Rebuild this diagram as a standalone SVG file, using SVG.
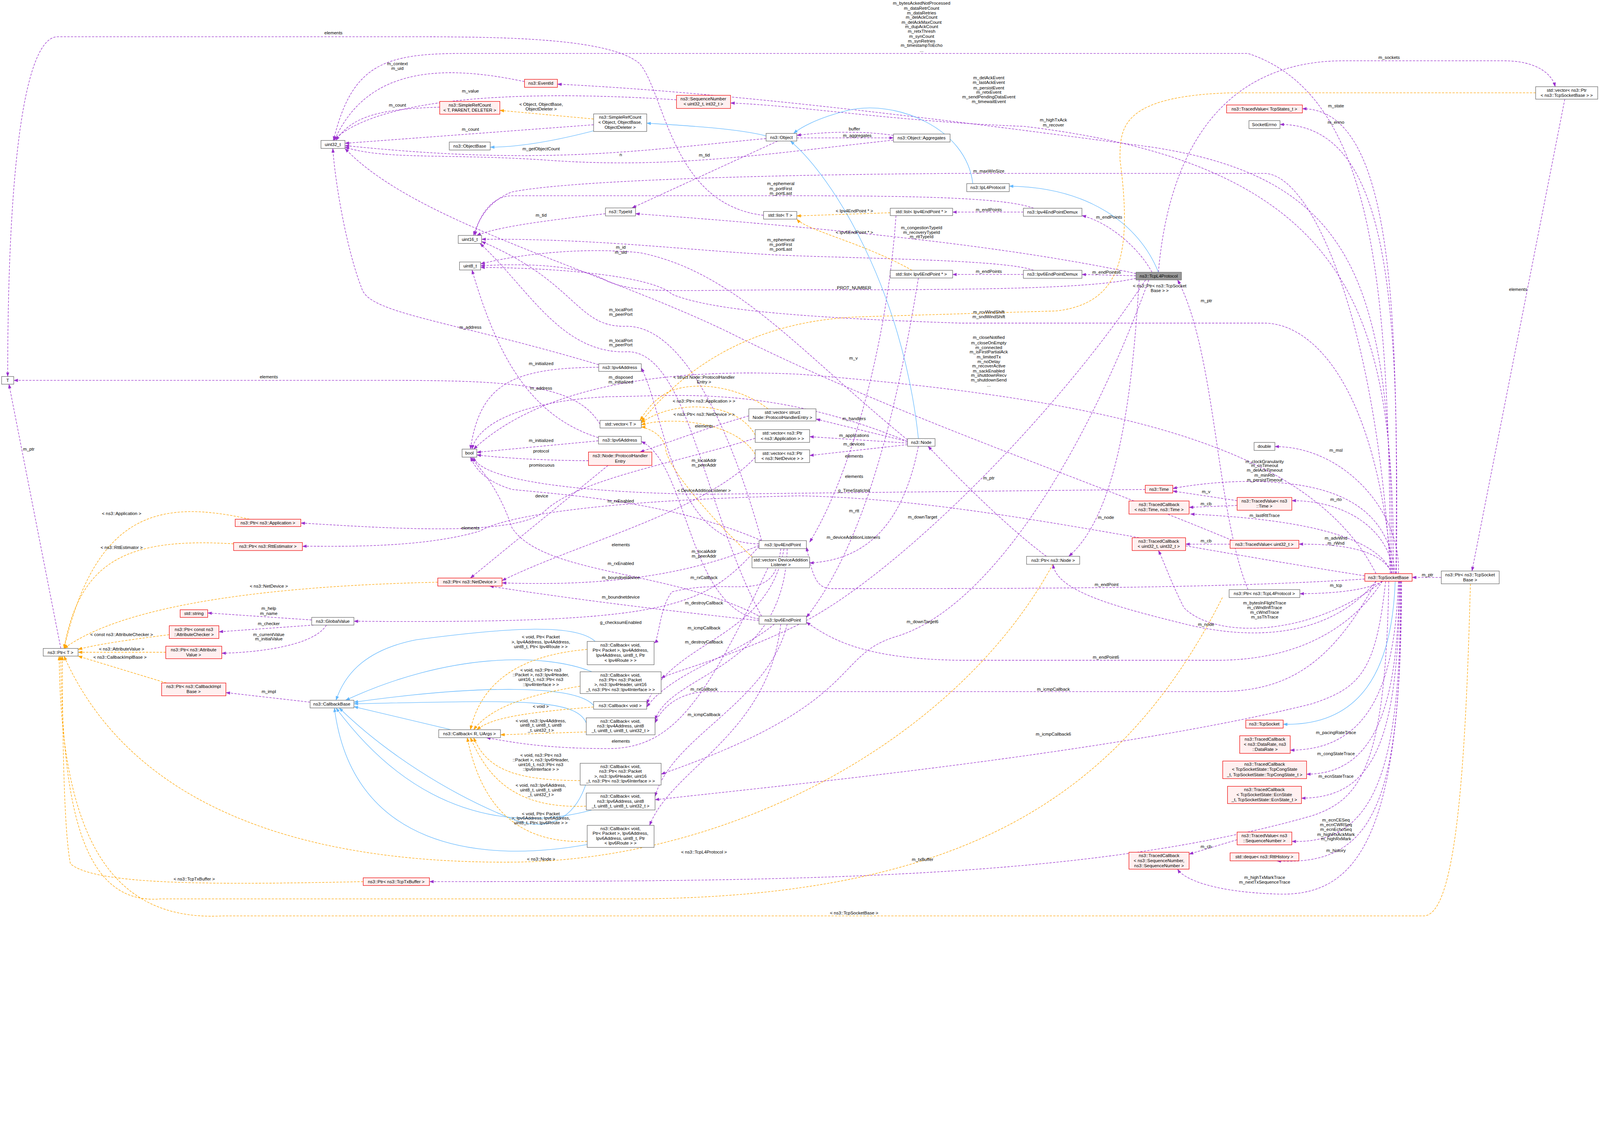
<svg xmlns="http://www.w3.org/2000/svg" width="5000" height="2894" viewBox="0 0 5000 2894" style="max-width:100%;height:auto">
<style>
text{font-family:"Liberation Sans",Arial,sans-serif;font-size:14px;fill:#000}
.nd text{text-anchor:middle}
.w{fill:#fff;stroke:#666;stroke-width:1.5}
.r{fill:#fff0f0;stroke:#e00;stroke-width:1.5}
.g{fill:#999;stroke:#666;stroke-width:1.5}
.p{stroke:#9a32cd;stroke-width:1.6;stroke-dasharray:7,4;fill:none;marker-end:url(#ap)}
.b{stroke:#63b8ff;stroke-width:1.6;fill:none;marker-end:url(#ab)}
.o{stroke:#ffa500;stroke-width:1.6;stroke-dasharray:7,4;fill:none;marker-end:url(#ao)}
.l text{text-anchor:middle}
</style>
<defs>
<marker id="ap" markerWidth="14" markerHeight="10" refX="13" refY="5" orient="auto" markerUnits="userSpaceOnUse"><path d="M0,0 L14,5 L0,10 Z" fill="#9a32cd"/></marker>
<marker id="ab" markerWidth="14" markerHeight="10" refX="13" refY="5" orient="auto" markerUnits="userSpaceOnUse"><path d="M0,0 L14,5 L0,10 Z" fill="#63b8ff"/></marker>
<marker id="ao" markerWidth="14" markerHeight="10" refX="13" refY="5" orient="auto" markerUnits="userSpaceOnUse"><path d="M0,0 L14,5 L0,10 Z" fill="#ffa500"/></marker>
</defs>
<rect width="5000" height="2894" fill="#fff"/>
<g id="edges">
<path class="p" d="M2386 673 C2100 640 2080 300 2000 200 C1900 110 1500 115 1200 115 L180 115 C80 115 24 500 24 1177"/>
<path class="p" d="M4345 1793 C4340 900 4300 300 3900 167 L1450 167 C1200 167 1100 200 1042 439"/>
<path class="p" d="M4350 1793 C4350 900 4250 560 3600 460 C3000 380 2300 290 1742 263"/>
<path class="p" d="M4355 1793 C4355 1000 4250 520 3200 395 C2800 380 2500 330 2283 322"/>
<path class="p" d="M1639 255 C1400 205 1150 200 1045 439"/>
<path class="p" d="M2114 312 C1700 285 1200 290 1040 439"/>
<path class="p" d="M1374 335 C1200 340 1100 360 1050 439"/>
<path class="p" d="M1855 390 L1078 448"/>
<path class="p" d="M2394 433 C2000 470 1700 520 1078 455"/>
<path class="p" d="M2792 438 C2400 480 2100 530 1700 500 C1400 480 1200 500 1078 460"/>
<path class="p" d="M2792 423 C2700 410 2600 410 2490 423"/>
<path class="p" d="M2490 431 L2792 431"/>
<path class="p" d="M2430 441 L1975 650"/>
<path class="p" d="M1892 668 C1700 690 1550 710 1490 736"/>
<path class="p" d="M4345 1793 C4300 1000 4100 542 3950 542 L3000 542 C2500 545 1800 560 1600 600 C1520 630 1490 700 1480 736"/>
<path class="p" d="M3230 651 C3150 620 2900 612 2500 612 L1600 612 C1530 612 1490 690 1485 736"/>
<path class="p" d="M3230 845 C3150 815 2800 810 2500 800 C2200 790 1900 745 1505 748"/>
<path class="p" d="M3550 855 C3200 780 2700 720 1986 668"/>
<path class="p" d="M3198 663 L2977 663"/>
<path class="p" d="M3600 851 C3550 760 3450 690 3381 674"/>
<path class="p" d="M3550 862 L3381 858"/>
<path class="p" d="M3198 858 L2977 858"/>
<path class="p" d="M3550 870 C3400 905 3000 906 2500 906 C2100 906 2000 920 1900 880 C1800 820 1600 825 1502 831"/>
<path class="p" d="M4350 1793 C4300 1200 4100 1010 3950 1010 L3000 1010 C2400 990 2200 960 2100 920 C2050 870 1800 838 1502 836"/>
<path class="p" d="M2380 1690 C2300 1400 2150 1010 1950 1020 C1800 1020 1800 880 1505 755"/>
<path class="p" d="M2380 1926 C2200 1600 2150 1080 1950 1100 C1750 1100 1650 900 1500 761"/>
<path class="p" d="M1871 1140 C1400 1000 1150 980 1130 900 C1090 800 1050 600 1040 464"/>
<path class="p" d="M1871 1148 C1600 1150 1500 1200 1470 1404"/>
<path class="p" d="M1870 1368 C1650 1300 1550 1100 1475 844"/>
<path class="p" d="M1870 1378 L1490 1414"/>
<path class="p" d="M2836 1375 C2500 1100 2300 850 2000 790 C1800 770 1600 800 1502 825"/>
<path class="p" d="M4300 1793 C4100 1400 3500 1250 2500 1170 C2100 1150 1700 1200 1480 1404"/>
<path class="p" d="M2836 1380 C2400 1200 2100 1240 1900 1240 C1700 1250 1500 1300 1475 1404"/>
<path class="p" d="M2836 1380 L2550 1310"/>
<path class="p" d="M2836 1385 L2530 1365"/>
<path class="p" d="M2836 1390 L2530 1424"/>
<path class="p" d="M1875 1326 C1800 1200 1600 1189 1200 1189 L43 1189"/>
<path class="p" d="M2340 1300 C2200 1340 2100 1380 2000 1413"/>
<path class="p" d="M1839 1440 C1700 1440 1550 1430 1490 1422"/>
<path class="p" d="M1900 1455 L1470 1807"/>
<path class="p" d="M2360 1370 C2100 1450 1800 1500 1700 1600 C1600 1680 1200 1650 940 1635"/>
<path class="p" d="M2360 1430 C2200 1600 1800 1700 1569 1815"/>
<path class="p" d="M4265 1800 C3500 1680 3000 1560 2500 1550 C2000 1560 1600 1600 1500 1660 C1300 1720 1000 1705 945 1708"/>
<path class="p" d="M2380 1690 C2100 1570 1800 1550 1600 1530 C1500 1500 1480 1450 1470 1429"/>
<path class="p" d="M2380 1930 C2100 1780 1700 1800 1600 1650 C1550 1500 1480 1450 1475 1429"/>
<path class="p" d="M2372 1705 C2100 1820 1800 1830 1569 1822"/>
<path class="p" d="M2372 1940 C2000 1900 1700 1860 1530 1832"/>
<path class="p" d="M2372 1700 C2100 1700 2080 1300 2004 1150"/>
<path class="p" d="M2372 1935 C2150 1900 2150 1450 2004 1380"/>
<path class="p" d="M2440 1715 C2420 1900 2300 1800 2100 1850 C2060 1900 2060 2000 2044 2010"/>
<path class="p" d="M2450 1715 C2400 2000 2100 2000 2021 2200"/>
<path class="p" d="M2460 1715 C2450 2100 2100 2100 2047 2250"/>
<path class="p" d="M2440 1951 C2400 2300 2100 2400 2030 2580"/>
<path class="p" d="M2420 1951 C2300 2050 2100 2100 2021 2210"/>
<path class="p" d="M2460 1951 C2400 2200 2100 2300 2047 2490"/>
<path class="p" d="M2372 1708 C2200 1900 2100 1950 1106 1942"/>
<path class="p" d="M974 1938 L649 1916"/>
<path class="p" d="M980 1954 L684 1975"/>
<path class="p" d="M1020 1954 C980 2020 800 2040 693 2042"/>
<path class="p" d="M969 2195 L706 2165"/>
<path class="p" d="M2400 1775 C2200 2200 2100 2340 1900 2340 C1700 2340 1600 2320 1520 2306"/>
<path class="p" d="M2870 1395 C2820 1650 2700 1750 2530 1760"/>
<path class="p" d="M3579 1530 L2200 1545 C1800 1540 1500 1500 1480 1429"/>
<path class="p" d="M4360 1793 C4340 1600 4200 1505 3900 1505 C3800 1505 3700 1520 3665 1527"/>
<path class="p" d="M3866 1565 L3665 1535"/>
<path class="p" d="M3866 1580 L3716 1586"/>
<path class="p" d="M4355 1793 C4340 1650 4200 1565 4037 1565"/>
<path class="p" d="M4350 1793 C4300 1660 4000 1620 3720 1607"/>
<path class="p" d="M3844 1701 L3705 1701"/>
<path class="p" d="M3850 1689 C3400 1500 2800 1300 2300 1050 C1900 850 1300 700 1078 464"/>
<path class="p" d="M4350 1793 C4320 1720 4200 1700 4059 1701"/>
<path class="p" d="M4320 1817 C4100 1990 3800 2000 3700 1900 C3650 1800 3640 1760 3620 1721"/>
<path class="p" d="M4300 1817 C4150 2000 3900 2000 3700 1950 C3500 1900 3300 1850 3291 1764"/>
<path class="p" d="M3560 875 C3540 1200 3500 1600 3340 1739"/>
<path class="p" d="M3270 1739 C3150 1650 3000 1500 2900 1395"/>
<path class="p" d="M4265 1810 C3800 1840 3200 1840 2600 1840 C2550 1840 2540 1800 2520 1710"/>
<path class="p" d="M4320 1817 C4200 2000 4000 2065 3800 2064 L3000 2064 C2700 2060 2600 2000 2520 1945"/>
<path class="p" d="M4320 1817 C4280 1840 4200 1855 4062 1856"/>
<path class="p" d="M3900 1843 C3800 1600 3800 1100 3680 875"/>
<path class="p" d="M4504 1805 L4413 1805"/>
<path class="p" d="M4890 310 L4600 1785"/>
<path class="p" d="M3620 851 C3650 500 3800 190 4200 190 L4700 190 C4800 190 4850 230 4860 271"/>
<path class="p" d="M4300 1817 C4150 2100 4000 2162 3800 2162 L2200 2162 C2100 2170 2060 2230 2047 2260"/>
<path class="p" d="M4330 1817 C4300 2100 4250 2150 4100 2200 C3500 2350 2500 2450 2047 2500"/>
<path class="p" d="M3580 875 C3300 1300 2800 1800 2500 1950 C2300 2050 2100 2100 2066 2120"/>
<path class="p" d="M3590 875 C3400 1400 3100 1900 2800 1990 C2600 2050 2700 2200 2066 2420"/>
<path class="p" d="M4340 1817 C4330 2400 4250 2500 4100 2550 C3400 2750 2500 2755 1342 2756"/>
<path class="p" d="M4362 1793 C4370 1000 4360 340 4070 340"/>
<path class="p" d="M4364 1793 C4370 1000 4360 389 4000 389"/>
<path class="p" d="M4370 1793 C4380 1600 4200 1396 3984 1396"/>
<path class="p" d="M4370 1817 C4360 2100 4300 2345 4032 2345"/>
<path class="p" d="M4372 1817 C4370 2200 4300 2420 4083 2420"/>
<path class="p" d="M4374 1817 C4370 2300 4300 2495 4067 2495"/>
<path class="p" d="M4376 1817 C4380 2400 4300 2640 4037 2630"/>
<path class="p" d="M4378 1817 C4380 2500 4300 2710 3990 2691"/>
<path class="p" d="M3866 2625 L3716 2670"/>
<path class="p" d="M4380 1817 C4380 2600 4250 2800 4000 2795 C3800 2790 3700 2750 3680 2717"/>
<path class="p" d="M2800 674 C2770 1100 2650 1500 2530 1695"/>
<path class="p" d="M2870 869 C2800 1300 2700 1700 2520 1930"/>
<path class="p" d="M190 2027 L28 1201"/>
<path class="b" d="M1870 405 C1700 450 1600 460 1532 460"/>
<path class="b" d="M2394 425 C2300 400 2100 390 2021 385"/>
<path class="b" d="M3040 574 C3020 400 2800 310 2650 345 C2550 370 2500 400 2480 417"/>
<path class="b" d="M2870 1371 C2820 900 2600 550 2470 441"/>
<path class="b" d="M3620 851 C3560 700 3400 585 3154 582"/>
<path class="b" d="M4360 1817 C4350 2100 4250 2270 4010 2264"/>
<path class="b" d="M1860 2005 C1800 1950 1600 1960 1300 2000 C1150 2030 1080 2100 1050 2189"/>
<path class="b" d="M1850 2100 C1700 2040 1400 2040 1080 2189"/>
<path class="b" d="M1855 2205 C1800 2140 1500 2140 1106 2195"/>
<path class="b" d="M1832 2260 C1800 2180 1600 2190 1106 2200"/>
<path class="b" d="M1410 2281 L1106 2209"/>
<path class="b" d="M1830 2454 C1790 2570 1700 2600 1600 2560 C1400 2480 1200 2350 1060 2213"/>
<path class="b" d="M1850 2532 C1600 2600 1300 2550 1050 2213"/>
<path class="b" d="M1835 2640 C1500 2700 1100 2650 1045 2213"/>
<path class="o" d="M1855 372 L1562 345"/>
<path class="o" d="M2782 665 L2490 675"/>
<path class="o" d="M2850 845 C2700 760 2520 720 2490 685"/>
<path class="o" d="M2400 1278 C2300 1200 2150 1190 2080 1230 C2030 1260 2010 1300 2000 1314"/>
<path class="o" d="M2360 1360 C2300 1250 2100 1250 2004 1322"/>
<path class="o" d="M2360 1420 C2300 1320 2100 1300 2004 1328"/>
<path class="o" d="M2360 1750 C2200 1600 2080 1450 2080 1400 C2070 1350 2010 1335 2004 1335"/>
<path class="o" d="M4799 290 L3850 290 C3500 300 3500 400 3500 500 C3540 800 3500 950 3300 972 L2700 990 C2300 1000 2100 1200 2004 1318"/>
<path class="o" d="M780 1623 C500 1560 300 1600 200 2027"/>
<path class="o" d="M730 1700 C400 1680 250 1750 200 2027"/>
<path class="o" d="M1368 1820 C900 1830 400 1880 200 2027"/>
<path class="o" d="M529 1984 C400 2000 300 2015 244 2030"/>
<path class="o" d="M518 2039 L244 2039"/>
<path class="o" d="M520 2135 L244 2051"/>
<path class="o" d="M3290 1764 C3000 2300 2300 2690 1600 2695 C900 2700 400 2500 200 2051"/>
<path class="o" d="M1135 2756 C700 2765 300 2770 220 2700 C200 2600 195 2300 195 2051"/>
<path class="o" d="M3820 1868 C3500 2500 3000 2800 2000 2810 L500 2810 C250 2830 195 2500 190 2051"/>
<path class="o" d="M4595 1825 C4580 2400 4550 2860 4450 2863 L700 2863 C400 2880 190 2700 185 2051"/>
<path class="o" d="M1835 2030 C1600 2050 1500 2150 1470 2281"/>
<path class="o" d="M1813 2145 C1600 2180 1520 2230 1480 2281"/>
<path class="o" d="M1855 2210 C1600 2230 1530 2250 1490 2281"/>
<path class="o" d="M1832 2288 L1564 2297"/>
<path class="o" d="M1813 2440 C1600 2440 1520 2400 1480 2306"/>
<path class="o" d="M1832 2520 C1600 2530 1520 2420 1470 2306"/>
<path class="o" d="M1835 2630 C1600 2640 1500 2500 1460 2306"/>
</g>
<g id="labels" class="l">
<text x="1042" y="107">elements</text>
<text x="2880" y="15">m_bytesAckedNotProcessed</text><text x="2880" y="30">m_dataRetrCount</text><text x="2880" y="45">m_dataRetries</text><text x="2880" y="59">m_delAckCount</text><text x="2880" y="74">m_delAckMaxCount</text><text x="2880" y="88">m_dupAckCount</text><text x="2880" y="103">m_retxThresh</text><text x="2880" y="119">m_synCount</text><text x="2880" y="133">m_synRetries</text><text x="2880" y="147">m_timestampToEcho</text><text x="2880" y="162">...</text>
<text x="3090" y="248">m_delAckEvent</text><text x="3090" y="263">m_lastAckEvent</text><text x="3090" y="279">m_persistEvent</text><text x="3090" y="293">m_retxEvent</text><text x="3090" y="307">m_sendPendingDataEvent</text><text x="3090" y="322">m_timewaitEvent</text>
<text x="3292" y="380">m_highTxAck</text><text x="3292" y="395">m_recover</text>
<text x="1242" y="204">m_context</text><text x="1242" y="219">m_uid</text>
<text x="1470" y="289">m_value</text>
<text x="1242" y="333">m_count</text>
<text x="1691" y="331">&lt; Object, ObjectBase,</text><text x="1691" y="346">ObjectDeleter &gt;</text>
<text x="1470" y="409">m_count</text>
<text x="1691" y="470">m_getObjectCount</text>
<text x="1940" y="488">n</text>
<text x="2201" y="489">m_tid</text>
<text x="2670" y="408">buffer</text><text x="2679" y="428">m_aggregates</text>
<text x="1691" y="677">m_tid</text>
<text x="3090" y="539">m_maxWinSize</text>
<text x="2440" y="579">m_ephemeral</text><text x="2440" y="594">m_portFirst</text><text x="2440" y="609">m_portLast</text>
<text x="2440" y="754">m_ephemeral</text><text x="2440" y="769">m_portFirst</text><text x="2440" y="784">m_portLast</text>
<text x="2880" y="716">m_congestionTypeId</text><text x="2880" y="731">m_recoveryTypeId</text><text x="2880" y="745">m_rttTypeId</text>
<text x="2670" y="664">&lt; Ipv4EndPoint * &gt;</text><text x="2670" y="731">&lt; Ipv6EndPoint * &gt;</text>
<text x="3090" y="660">m_endPoints</text><text x="3466" y="683">m_endPoints</text><text x="3090" y="853">m_endPoints</text><text x="3458" y="856">m_endPoints6</text>
<text x="2669" y="904">PROT_NUMBER</text>
<text x="3624" y="898">&lt; ns3::Ptr&lt; ns3::TcpSocket</text><text x="3624" y="913">Base &gt; &gt;</text>
<text x="3770" y="945">m_ptr</text>
<text x="3090" y="980">m_rcvWindShift</text><text x="3090" y="995">m_sndWindShift</text>
<text x="4341" y="184">m_sockets</text><text x="4175" y="336">m_state</text><text x="4175" y="387">m_errno</text>
<text x="4744" y="909">elements</text>
<text x="1940" y="778">m_id</text><text x="1940" y="793">m_sid</text>
<text x="1940" y="973">m_localPort</text><text x="1940" y="988">m_peerPort</text>
<text x="1940" y="1069">m_localPort</text><text x="1940" y="1083">m_peerPort</text>
<text x="1470" y="1028">m_address</text>
<text x="1691" y="1141">m_initialized</text>
<text x="1940" y="1184">m_disposed</text><text x="1940" y="1199">m_initialized</text>
<text x="840" y="1183">elements</text>
<text x="1691" y="1218">m_address</text>
<text x="1691" y="1382">m_initialized</text>
<text x="1691" y="1415">protocol</text>
<text x="1693" y="1458">promiscuous</text>
<text x="2200" y="1184">&lt; struct Node::ProtocolHandler</text><text x="2200" y="1199">Entry &gt;</text>
<text x="2200" y="1259">&lt; ns3::Ptr&lt; ns3::Application &gt; &gt;</text>
<text x="2200" y="1300">&lt; ns3::Ptr&lt; ns3::NetDevice &gt; &gt;</text>
<text x="2200" y="1336">elements</text>
<text x="2200" y="1444">m_localAddr</text><text x="2200" y="1459">m_peerAddr</text>
<text x="2667" y="1124">m_v</text>
<text x="3090" y="1060">m_closeNotified</text><text x="3090" y="1076">m_closeOnEmpty</text><text x="3090" y="1091">m_connected</text><text x="3090" y="1105">m_isFirstPartialAck</text><text x="3090" y="1120">m_limitedTx</text><text x="3090" y="1135">m_noDelay</text><text x="3090" y="1149">m_recoverActive</text><text x="3090" y="1164">m_sackEnabled</text><text x="3090" y="1178">m_shutdownRecv</text><text x="3090" y="1193">m_shutdownSend</text><text x="3090" y="1208">...</text>
<text x="2669" y="1313">m_handlers</text><text x="2669" y="1366">m_applications</text><text x="2669" y="1393">m_devices</text><text x="2669" y="1431">elements</text>
<text x="4175" y="1412">m_msl</text>
<text x="3952" y="1447">m_clockGranularity</text><text x="3952" y="1460">m_cnTimeout</text><text x="3952" y="1475">m_delAckTimeout</text><text x="3952" y="1490">m_minRto</text><text x="3952" y="1505">m_persistTimeout</text>
<text x="2669" y="1494">elements</text>
<text x="3090" y="1499">m_ptr</text>
<text x="2200" y="1538">&lt; DeviceAdditionListener &gt;</text>
<text x="2669" y="1538">g_TimeStaticInit</text>
<text x="1693" y="1555">device</text>
<text x="1940" y="1571">m_rxEnabled</text>
<text x="3769" y="1542">m_v</text><text x="3769" y="1580">m_cb</text><text x="4175" y="1566">m_rto</text><text x="3952" y="1616">m_lastRttTrace</text>
<text x="2669" y="1602">m_rtt</text><text x="2883" y="1621">m_downTarget</text><text x="3456" y="1622">m_node</text>
<text x="1470" y="1655">elements</text>
<text x="2667" y="1684">m_deviceAdditionListeners</text>
<text x="3769" y="1696">m_cb</text><text x="4175" y="1687">m_advWnd</text><text x="4175" y="1703">m_rWnd</text>
<text x="1940" y="1707">elements</text>
<text x="2200" y="1728">m_localAddr</text><text x="2200" y="1743">m_peerAddr</text>
<text x="1940" y="1766">m_rxEnabled</text>
<text x="4461" y="1801">m_ptr</text><text x="4175" y="1834">m_tcp</text>
<text x="1940" y="1810">m_boundnetdevice</text><text x="2200" y="1810">m_rxCallback</text>
<text x="3458" y="1832">m_endPoint</text>
<text x="840" y="1837">&lt; ns3::NetDevice &gt;</text>
<text x="1940" y="1871">m_boundnetdevice</text><text x="2200" y="1890">m_destroyCallback</text>
<text x="3952" y="1890">m_bytesInFlightTrace</text><text x="3952" y="1904">m_cWndInflTrace</text><text x="3952" y="1919">m_cWndTrace</text><text x="3952" y="1934">m_ssThTrace</text>
<text x="840" y="1907">m_help</text><text x="840" y="1922">m_name</text>
<text x="1940" y="1951">g_checksumEnabled</text>
<text x="2883" y="1948">m_downTarget6</text>
<text x="840" y="1954">m_checker</text>
<text x="3769" y="1957">m_node</text>
<text x="2200" y="1968">m_icmpCallback</text>
<text x="380" y="1988">&lt; const ns3::AttributeChecker &gt;</text>
<text x="840" y="1988">m_currentValue</text><text x="840" y="2002">m_initialValue</text>
<text x="2200" y="2011">m_destroyCallback</text>
<text x="380" y="2034">&lt; ns3::AttributeValue &gt;</text>
<text x="375" y="2059">&lt; ns3::CallbackImplBase &gt;</text>
<text x="3456" y="2059">m_endPoint6</text>
<text x="840" y="2166">m_impl</text>
<text x="2200" y="2159">m_rxCallback</text><text x="3292" y="2159">m_icmpCallback</text>
<text x="2200" y="2239">m_icmpCallback</text>
<text x="1690" y="1996">&lt; void, Ptr&lt; Packet</text><text x="1690" y="2011">&gt;, Ipv4Address, Ipv4Address,</text><text x="1690" y="2026">uint8_t, Ptr&lt; Ipv4Route &gt; &gt;</text>
<text x="1690" y="2099">&lt; void, ns3::Ptr&lt; ns3</text><text x="1690" y="2114">::Packet &gt;, ns3::Ipv4Header,</text><text x="1690" y="2129">uint16_t, ns3::Ptr&lt; ns3</text><text x="1690" y="2144">::Ipv4Interface &gt; &gt;</text>
<text x="1690" y="2213">&lt; void &gt;</text>
<text x="1690" y="2258">&lt; void, ns3::Ipv4Address,</text><text x="1690" y="2272">uint8_t, uint8_t, uint8</text><text x="1690" y="2287">_t, uint32_t &gt;</text>
<text x="4175" y="2295">m_pacingRateTrace</text><text x="3292" y="2299">m_icmpCallback6</text>
<text x="1940" y="2321">elements</text>
<text x="4175" y="2360">m_congStateTrace</text>
<text x="1690" y="2366">&lt; void, ns3::Ptr&lt; ns3</text><text x="1690" y="2380">::Packet &gt;, ns3::Ipv6Header,</text><text x="1690" y="2395">uint16_t, ns3::Ptr&lt; ns3</text><text x="1690" y="2410">::Ipv6Interface &gt; &gt;</text>
<text x="4175" y="2431">m_ecnStateTrace</text>
<text x="1690" y="2460">&lt; void, ns3::Ipv6Address,</text><text x="1690" y="2474">uint8_t, uint8_t, uint8</text><text x="1690" y="2489">_t, uint32_t &gt;</text>
<text x="1690" y="2548">&lt; void, Ptr&lt; Packet</text><text x="1690" y="2562">&gt;, Ipv6Address, Ipv6Address,</text><text x="1690" y="2577">uint8_t, Ptr&lt; Ipv6Route &gt; &gt;</text>
<text x="4175" y="2568">m_ecnCESeq</text><text x="4175" y="2583">m_ecnCWRSeq</text><text x="4175" y="2598">m_ecnEchoSeq</text><text x="4175" y="2613">m_highRxAckMark</text><text x="4175" y="2627">m_highRxMark</text>
<text x="3769" y="2651">m_cb</text><text x="4175" y="2663">m_history</text>
<text x="2200" y="2668">&lt; ns3::TcpL4Protocol &gt;</text>
<text x="1691" y="2690">&lt; ns3::Node &gt;</text>
<text x="2883" y="2691">m_txBuffer</text>
<text x="3952" y="2747">m_highTxMarkTrace</text><text x="3952" y="2762">m_nextTxSequenceTrace</text>
<text x="607" y="2752">&lt; ns3::TcpTxBuffer &gt;</text>
<text x="2669" y="2859">&lt; ns3::TcpSocketBase &gt;</text>
<text x="380" y="1610">&lt; ns3::Application &gt;</text>
<text x="380" y="1716">&lt; ns3::RttEstimator &gt;</text>
<text x="90" y="1408">m_ptr</text>
</g>
<g class="nd">
<g id="T"><rect class="w" x="5" y="1177" width="38" height="24"/><text x="24" y="1194">T</text></g>
<g id="uint32"><rect class="w" x="1003" y="439" width="75" height="25"/><text x="1040" y="456">uint32_t</text></g>
<g id="uint16"><rect class="w" x="1432" y="736" width="73" height="25"/><text x="1468" y="753">uint16_t</text></g>
<g id="uint8"><rect class="w" x="1436" y="819" width="66" height="25"/><text x="1469" y="836">uint8_t</text></g>
<g id="bool"><rect class="w" x="1444" y="1404" width="46" height="25"/><text x="1467" y="1421">bool</text></g>
<g id="EventId"><rect class="r" x="1639" y="248" width="103" height="25"/><text x="1690" y="265">ns3::EventId</text></g>
<g id="SeqNum"><rect class="r" x="2114" y="298" width="169" height="41"/><text x="2198" y="314">ns3::SequenceNumber</text><text x="2198" y="330">&lt; uint32_t, int32_t &gt;</text></g>
<g id="SRCT"><rect class="r" x="1374" y="317" width="188" height="40"/><text x="1468" y="333">ns3::SimpleRefCount</text><text x="1468" y="349">&lt; T, PARENT, DELETER &gt;</text></g>
<g id="SRCObj"><rect class="w" x="1855" y="356" width="166" height="55"/><text x="1938" y="371">ns3::SimpleRefCount</text><text x="1938" y="387">&lt; Object, ObjectBase,</text><text x="1938" y="403">ObjectDeleter &gt;</text></g>
<g id="ObjectBase"><rect class="w" x="1404" y="444" width="128" height="25"/><text x="1468" y="461">ns3::ObjectBase</text></g>
<g id="Object"><rect class="w" x="2394" y="417" width="96" height="24"/><text x="2442" y="434">ns3::Object</text></g>
<g id="Aggregates"><rect class="w" x="2792" y="419" width="177" height="25"/><text x="2880" y="436">ns3::Object::Aggregates</text></g>
<g id="TypeId"><rect class="w" x="1892" y="650" width="94" height="25"/><text x="1939" y="667">ns3::TypeId</text></g>
<g id="listT"><rect class="w" x="2386" y="661" width="104" height="24"/><text x="2438" y="678">std::list&lt; T &gt;</text></g>
<g id="IpL4"><rect class="w" x="3021" y="574" width="133" height="25"/><text x="3087" y="591">ns3::IpL4Protocol</text></g>
<g id="list4"><rect class="w" x="2782" y="651" width="195" height="23"/><text x="2879" y="667">std::list&lt; Ipv4EndPoint * &gt;</text></g>
<g id="demux4"><rect class="w" x="3198" y="651" width="183" height="25"/><text x="3289" y="668">ns3::Ipv4EndPointDemux</text></g>
<g id="list6"><rect class="w" x="2782" y="845" width="195" height="24"/><text x="2879" y="862">std::list&lt; Ipv6EndPoint * &gt;</text></g>
<g id="demux6"><rect class="w" x="3198" y="845" width="183" height="25"/><text x="3289" y="862">ns3::Ipv6EndPointDemux</text></g>
<g id="TcpL4"><rect class="g" x="3550" y="851" width="142" height="24"/><text x="3621" y="868">ns3::TcpL4Protocol</text></g>
<g id="vecTSB"><rect class="w" x="4799" y="271" width="194" height="39"/><text x="4896" y="287">std::vector&lt; ns3::Ptr</text><text x="4896" y="303">&lt; ns3::TcpSocketBase &gt; &gt;</text></g>
<g id="TVStates"><rect class="r" x="3833" y="328" width="237" height="25"/><text x="3951" y="345">ns3::TracedValue&lt; TcpStates_t &gt;</text></g>
<g id="SocketErrno"><rect class="w" x="3903" y="377" width="97" height="25"/><text x="3951" y="394">SocketErrno</text></g>
<g id="Ipv4Address"><rect class="w" x="1871" y="1137" width="133" height="24"/><text x="1937" y="1154">ns3::Ipv4Address</text></g>
<g id="vecT"><rect class="w" x="1875" y="1314" width="129" height="24"/><text x="1939" y="1331">std::vector&lt; T &gt;</text></g>
<g id="Ipv6Address"><rect class="w" x="1870" y="1364" width="134" height="24"/><text x="1937" y="1381">ns3::Ipv6Address</text></g>
<g id="PHE"><rect class="r" x="1839" y="1413" width="198" height="42"/><text x="1938" y="1429">ns3::Node::ProtocolHandler</text><text x="1938" y="1446">Entry</text></g>
<g id="vecPHE"><rect class="w" x="2340" y="1278" width="210" height="38"/><text x="2445" y="1294">std::vector&lt; struct</text><text x="2445" y="1310">Node::ProtocolHandlerEntry &gt;</text></g>
<g id="vecApp"><rect class="w" x="2360" y="1343" width="170" height="40"/><text x="2445" y="1359">std::vector&lt; ns3::Ptr</text><text x="2445" y="1375">&lt; ns3::Application &gt; &gt;</text></g>
<g id="vecDev"><rect class="w" x="2360" y="1406" width="170" height="40"/><text x="2445" y="1422">std::vector&lt; ns3::Ptr</text><text x="2445" y="1438">&lt; ns3::NetDevice &gt; &gt;</text></g>
<g id="Node"><rect class="w" x="2836" y="1371" width="86" height="24"/><text x="2879" y="1388">ns3::Node</text></g>
<g id="double"><rect class="w" x="3919" y="1383" width="65" height="25"/><text x="3951" y="1400">double</text></g>
<g id="PtrApp"><rect class="r" x="735" y="1623" width="205" height="23"/><text x="837" y="1639">ns3::Ptr&lt; ns3::Application &gt;</text></g>
<g id="PtrRtt"><rect class="r" x="730" y="1696" width="215" height="25"/><text x="837" y="1713">ns3::Ptr&lt; ns3::RttEstimator &gt;</text></g>
<g id="Ipv4EndPoint"><rect class="w" x="2372" y="1690" width="148" height="25"/><text x="2446" y="1707">ns3::Ipv4EndPoint</text></g>
<g id="vecDAL"><rect class="w" x="2350" y="1741" width="180" height="34"/><text x="2440" y="1755">std::vector&lt; DeviceAddition</text><text x="2440" y="1770">Listener &gt;</text></g>
<g id="PtrNetDevice"><rect class="r" x="1368" y="1807" width="201" height="25"/><text x="1468" y="1824">ns3::Ptr&lt; ns3::NetDevice &gt;</text></g>
<g id="string"><rect class="r" x="563" y="1906" width="86" height="24"/><text x="606" y="1923">std::string</text></g>
<g id="GlobalValue"><rect class="w" x="974" y="1930" width="132" height="24"/><text x="1040" y="1947">ns3::GlobalValue</text></g>
<g id="Ipv6EndPoint"><rect class="w" x="2372" y="1926" width="148" height="25"/><text x="2446" y="1943">ns3::Ipv6EndPoint</text></g>
<g id="PtrAC"><rect class="r" x="529" y="1956" width="155" height="40"/><text x="606" y="1972">ns3::Ptr&lt; const ns3</text><text x="606" y="1988">::AttributeChecker &gt;</text></g>
<g id="PtrAV"><rect class="r" x="518" y="2020" width="175" height="39"/><text x="605" y="2036">ns3::Ptr&lt; ns3::Attribute</text><text x="605" y="2052">Value &gt;</text></g>
<g id="PtrT"><rect class="w" x="135" y="2027" width="109" height="24"/><text x="189" y="2044">ns3::Ptr&lt; T &gt;</text></g>
<g id="PtrCIB"><rect class="r" x="505" y="2135" width="201" height="40"/><text x="605" y="2151">ns3::Ptr&lt; ns3::CallbackImpl</text><text x="605" y="2167">Base &gt;</text></g>
<g id="CallbackBase"><rect class="w" x="969" y="2189" width="137" height="24"/><text x="1037" y="2206">ns3::CallbackBase</text></g>
<g id="CbRU"><rect class="w" x="1371" y="2281" width="193" height="25"/><text x="1467" y="2298">ns3::Callback&lt; R, UArgs &gt;</text></g>
<g id="Cb4Route"><rect class="w" x="1835" y="2005" width="209" height="73"/><text x="1939" y="2021">ns3::Callback&lt; void,</text><text x="1939" y="2037">Ptr&lt; Packet &gt;, Ipv4Address,</text><text x="1939" y="2053">Ipv4Address, uint8_t, Ptr</text><text x="1939" y="2069">&lt; Ipv4Route &gt; &gt;</text></g>
<g id="Cb4Hdr"><rect class="w" x="1813" y="2100" width="253" height="68"/><text x="1939" y="2115">ns3::Callback&lt; void,</text><text x="1939" y="2130">ns3::Ptr&lt; ns3::Packet</text><text x="1939" y="2145">&gt;, ns3::Ipv4Header, uint16</text><text x="1939" y="2160">_t, ns3::Ptr&lt; ns3::Ipv4Interface &gt; &gt;</text></g>
<g id="CbVoid"><rect class="w" x="1855" y="2193" width="166" height="24"/><text x="1938" y="2210">ns3::Callback&lt; void &gt;</text></g>
<g id="Cb4Addr"><rect class="w" x="1832" y="2244" width="215" height="53"/><text x="1939" y="2259">ns3::Callback&lt; void,</text><text x="1939" y="2274">ns3::Ipv4Address, uint8</text><text x="1939" y="2289">_t, uint8_t, uint8_t, uint32_t &gt;</text></g>
<g id="Cb6Hdr"><rect class="w" x="1813" y="2386" width="253" height="68"/><text x="1939" y="2401">ns3::Callback&lt; void,</text><text x="1939" y="2416">ns3::Ptr&lt; ns3::Packet</text><text x="1939" y="2431">&gt;, ns3::Ipv6Header, uint16</text><text x="1939" y="2446">_t, ns3::Ptr&lt; ns3::Ipv6Interface &gt; &gt;</text></g>
<g id="Cb6Addr"><rect class="w" x="1832" y="2479" width="215" height="53"/><text x="1939" y="2494">ns3::Callback&lt; void,</text><text x="1939" y="2509">ns3::Ipv6Address, uint8</text><text x="1939" y="2524">_t, uint8_t, uint8_t, uint32_t &gt;</text></g>
<g id="Cb6Route"><rect class="w" x="1835" y="2580" width="209" height="69"/><text x="1939" y="2595">ns3::Callback&lt; void,</text><text x="1939" y="2610">Ptr&lt; Packet &gt;, Ipv6Address,</text><text x="1939" y="2625">Ipv6Address, uint8_t, Ptr</text><text x="1939" y="2640">&lt; Ipv6Route &gt; &gt;</text></g>
<g id="PtrTxBuf"><rect class="r" x="1135" y="2744" width="207" height="24"/><text x="1238" y="2761">ns3::Ptr&lt; ns3::TcpTxBuffer &gt;</text></g>
<g id="Time"><rect class="r" x="3579" y="1517" width="86" height="24"/><text x="3622" y="1534">ns3::Time</text></g>
<g id="TVTime"><rect class="r" x="3866" y="1555" width="171" height="40"/><text x="3951" y="1571">ns3::TracedValue&lt; ns3</text><text x="3951" y="1587">::Time &gt;</text></g>
<g id="TCTime"><rect class="r" x="3528" y="1566" width="188" height="41"/><text x="3622" y="1582">ns3::TracedCallback</text><text x="3622" y="1598">&lt; ns3::Time, ns3::Time &gt;</text></g>
<g id="TCu32"><rect class="r" x="3538" y="1681" width="167" height="40"/><text x="3621" y="1697">ns3::TracedCallback</text><text x="3621" y="1713">&lt; uint32_t, uint32_t &gt;</text></g>
<g id="TVu32"><rect class="r" x="3844" y="1689" width="215" height="25"/><text x="3951" y="1706">ns3::TracedValue&lt; uint32_t &gt;</text></g>
<g id="PtrNode"><rect class="w" x="3208" y="1739" width="166" height="25"/><text x="3291" y="1756">ns3::Ptr&lt; ns3::Node &gt;</text></g>
<g id="TSB"><rect class="r" x="4265" y="1793" width="148" height="24"/><text x="4339" y="1810">ns3::TcpSocketBase</text></g>
<g id="PtrTSB"><rect class="w" x="4504" y="1785" width="181" height="40"/><text x="4594" y="1801">ns3::Ptr&lt; ns3::TcpSocket</text><text x="4594" y="1817">Base &gt;</text></g>
<g id="PtrTcpL4"><rect class="w" x="3841" y="1843" width="221" height="25"/><text x="3951" y="1860">ns3::Ptr&lt; ns3::TcpL4Protocol &gt;</text></g>
<g id="TcpSocket"><rect class="r" x="3893" y="2251" width="117" height="25"/><text x="3951" y="2268">ns3::TcpSocket</text></g>
<g id="TCDataRate"><rect class="r" x="3874" y="2300" width="158" height="55"/><text x="3953" y="2315">ns3::TracedCallback</text><text x="3953" y="2331">&lt; ns3::DataRate, ns3</text><text x="3953" y="2347">::DataRate &gt;</text></g>
<g id="TCCong"><rect class="r" x="3821" y="2379" width="262" height="55"/><text x="3952" y="2394">ns3::TracedCallback</text><text x="3952" y="2410">&lt; TcpSocketState::TcpCongState</text><text x="3952" y="2426">_t, TcpSocketState::TcpCongState_t &gt;</text></g>
<g id="TCEcn"><rect class="r" x="3836" y="2458" width="231" height="54"/><text x="3951" y="2473">ns3::TracedCallback</text><text x="3951" y="2489">&lt; TcpSocketState::EcnState</text><text x="3951" y="2505">_t, TcpSocketState::EcnState_t &gt;</text></g>
<g id="TVSeq"><rect class="r" x="3866" y="2601" width="171" height="40"/><text x="3951" y="2617">ns3::TracedValue&lt; ns3</text><text x="3951" y="2633">::SequenceNumber &gt;</text></g>
<g id="deque"><rect class="r" x="3844" y="2666" width="215" height="25"/><text x="3951" y="2683">std::deque&lt; ns3::RttHistory &gt;</text></g>
<g id="TCSeq"><rect class="r" x="3528" y="2664" width="188" height="53"/><text x="3622" y="2679">ns3::TracedCallback</text><text x="3622" y="2695">&lt; ns3::SequenceNumber,</text><text x="3622" y="2711">ns3::SequenceNumber &gt;</text></g>
</g>
</svg>
